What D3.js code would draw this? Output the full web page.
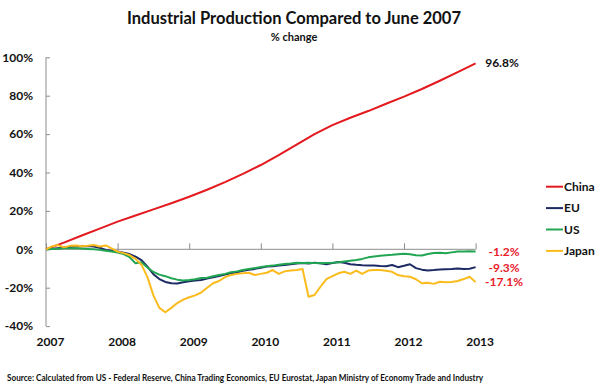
<!DOCTYPE html>
<html><head><meta charset="utf-8">
<script src="https://cdn.jsdelivr.net/npm/d3@7"></script>
<style>
html,body{margin:0;padding:0;background:#fff;}
svg{display:block;font-family:Lato,"Open Sans",sans-serif;}
</style></head>
<body><svg id="c" width="600" height="390"></svg>
<script>
// months since June 2007 (0 = 2007 label, 72 = 2013 label)
const yearLabels = ["2007","2008","2009","2010","2011","2012","2013"];
const yTicks = [-40,-20,0,20,40,60,80,100];
const seriesNames = ["China","EU","US","Japan"];
const seriesColors = ["#e3191e","#1c2a64","#22a552","#fbbb1c"];

const chinaMonths = [0,3,6,9,12,15,18,21,24,27,30,33,36,39,42,45,48,51,54,57,60,63,66,69,72];
const chinaValues = [0,3.5,7.2,10.8,14.4,17.6,20.8,24.0,27.4,31.0,35.0,39.3,43.9,49.0,54.5,60.0,64.7,68.5,72.0,75.8,79.5,83.5,87.8,92.3,96.8];

const euValues = [0,0.3,0.6,0.9,1.2,1.4,1.6,1.7,1.5,0.8,-0.3,-0.8,
  -1.2,-1.8,-2.5,-3.8,-5.6,-9.0,-13.0,-15.5,-17.0,-17.7,-17.8,-17.2,
  -16.6,-16.2,-16.0,-15.2,-14.6,-13.9,-13.2,-12.5,-12.0,-11.2,-10.6,-10.2,
  -9.6,-9.0,-8.8,-8.4,-8.2,-7.8,-7.4,-7.2,-7.4,-7.0,-7.3,-7.8,
  -7.2,-6.6,-7.0,-7.8,-8.1,-8.3,-8.4,-8.5,-8.7,-8.8,-8.2,-9.3,
  -8.6,-7.8,-9.8,-10.6,-11.0,-10.8,-10.5,-10.4,-10.3,-10.0,-10.2,-10.1,
  -9.3];
const usValues = [0,0.2,0.3,0.5,0.6,0.5,0.4,0.2,0,-0.3,-0.7,-1.2,
  -1.7,-2.5,-4.0,-7.3,-6.8,-9.5,-11.8,-13.2,-14.0,-15.1,-15.8,-16.2,
  -16.0,-15.6,-15.0,-14.8,-14.0,-13.4,-12.8,-12.0,-11.5,-10.8,-10.2,-9.8,
  -9.2,-8.8,-8.5,-8.0,-7.6,-7.4,-7.0,-7.1,-7.0,-7.2,-7.3,-7.1,
  -7.0,-6.8,-6.4,-6.0,-5.6,-5.0,-4.2,-3.8,-3.4,-3.1,-2.9,-2.6,
  -2.3,-2.6,-3.1,-3.2,-2.4,-1.9,-1.8,-2.0,-1.6,-1.2,-1.1,-1.0,
  -1.2];
const japanValues = [0,1.5,2.2,1.0,1.8,2.0,1.6,1.8,2.2,1.5,2.0,0.5,
  -1.2,-2.0,-3.0,-5.0,-8.0,-14.5,-24.0,-30.5,-32.8,-30.5,-28.0,-26.2,
  -25.0,-24.0,-22.5,-20.0,-17.7,-16.5,-14.5,-13.4,-12.8,-12.5,-12.2,-13.4,
  -12.8,-12.2,-10.8,-12.8,-11.5,-11.1,-10.8,-10.3,-24.7,-23.8,-19.5,-15.5,
  -14.0,-12.5,-11.7,-12.8,-11.1,-12.8,-11.1,-10.8,-10.8,-11.2,-11.7,-13.4,
  -14.0,-14.3,-15.6,-17.7,-17.4,-18.0,-16.9,-17.1,-17.0,-16.5,-15.5,-14.3,
  -17.1];
const endLabels = ["96.8%","-9.3%","-1.2%","-17.1%"];

const svg = d3.select("#c");
const x = d3.scaleLinear().domain([0,72]).range([46,475.6]);
const y = d3.scaleLinear().domain([-40,100]).range([326.1,57.3]);

// title
svg.append("text").attr("x",294).attr("y",24).attr("text-anchor","middle")
  .attr("font-size",16.5).attr("font-weight","bold").attr("fill","#111")
  .text("Industrial Production Compared to June 2007");
svg.append("text").attr("x",294).attr("y",41).attr("text-anchor","middle")
  .attr("font-size",11).attr("font-weight","bold").attr("fill","#111")
  .text("% change");

// y axis
const yAxis = d3.axisLeft(y).tickValues(yTicks).tickSize(-4).tickPadding(13)
  .tickFormat(d => d + "%");
const gy = svg.append("g").attr("transform","translate(46,0)").call(yAxis);
gy.select(".domain").attr("stroke","#8c8c8c").attr("d","M0,"+y(-40)+"V"+y(100));
gy.selectAll(".tick line").attr("stroke","#8c8c8c");
gy.selectAll(".tick text").attr("font-size",12).attr("font-weight","bold")
  .attr("fill","#111").attr("font-family","Lato,sans-serif");

// x axis at zero
const xAxis = d3.axisBottom(x).tickValues(d3.range(0,73,12)).tickSize(-6)
  .tickFormat((d,i) => yearLabels[i]);
const gx = svg.append("g").attr("transform","translate(0,"+y(0)+")").call(xAxis);
gx.select(".domain").attr("stroke","#8c8c8c").attr("d","M"+x(0)+",0H"+x(72));
gx.selectAll(".tick line").attr("stroke","#8c8c8c");
gx.selectAll(".tick text").attr("font-size",12).attr("font-weight","bold")
  .attr("fill","#111").attr("font-family","Lato,sans-serif")
  .attr("dx",4).attr("y",y(-40)-y(0)+11);

// lines
const line = d3.line().x(d => x(d[0])).y(d => y(d[1]));
const chinaData = chinaMonths.map((m,i) => [m, chinaValues[i]]);
const monthly = arr => arr.map((v,i) => [i,v]);
const allData = [chinaData, monthly(euValues), monthly(usValues), monthly(japanValues)];
allData.forEach((data,i) => {
  svg.append("path").datum(data)
    .attr("d", line(data))
    .attr("fill","none").attr("stroke",seriesColors[i]).attr("stroke-width",2)
    .attr("stroke-linejoin","round");
});

// end labels
svg.append("text").attr("x",502).attr("y",y(chinaValues[chinaValues.length-1])+4)
  .attr("text-anchor","middle").attr("font-size",12).attr("font-weight","bold")
  .attr("fill","#111").text(endLabels[0]);
const endY = [268.3, 251.7, 282.3];
[1,2,3].forEach((s,k) => {
  svg.append("text").attr("x",504).attr("y",endY[k]+4)
    .attr("text-anchor","middle").attr("font-size",12).attr("font-weight","bold")
    .attr("fill","#e8202a").text(endLabels[s]);
});

// legend
seriesNames.forEach((n,i) => {
  const ly = 186.7 + i*21.4;
  svg.append("line").attr("x1",546).attr("x2",563).attr("y1",ly).attr("y2",ly)
    .attr("stroke",seriesColors[i]).attr("stroke-width",2);
  svg.append("text").attr("x",564).attr("y",ly+4).attr("font-size",12)
    .attr("font-weight","bold").attr("fill","#111").text(n);
});

// source
svg.append("text").attr("x",7).attr("y",381).attr("font-size",9.5)
  .attr("font-weight","bold").attr("fill","#111")
  .attr("textLength",476).attr("lengthAdjust","spacingAndGlyphs")
  .text("Source: Calculated  from  US - Federal Reserve,  China  Trading  Economics,  EU Eurostat,  Japan  Ministry of Economy Trade and Industry");
</script></body></html>
